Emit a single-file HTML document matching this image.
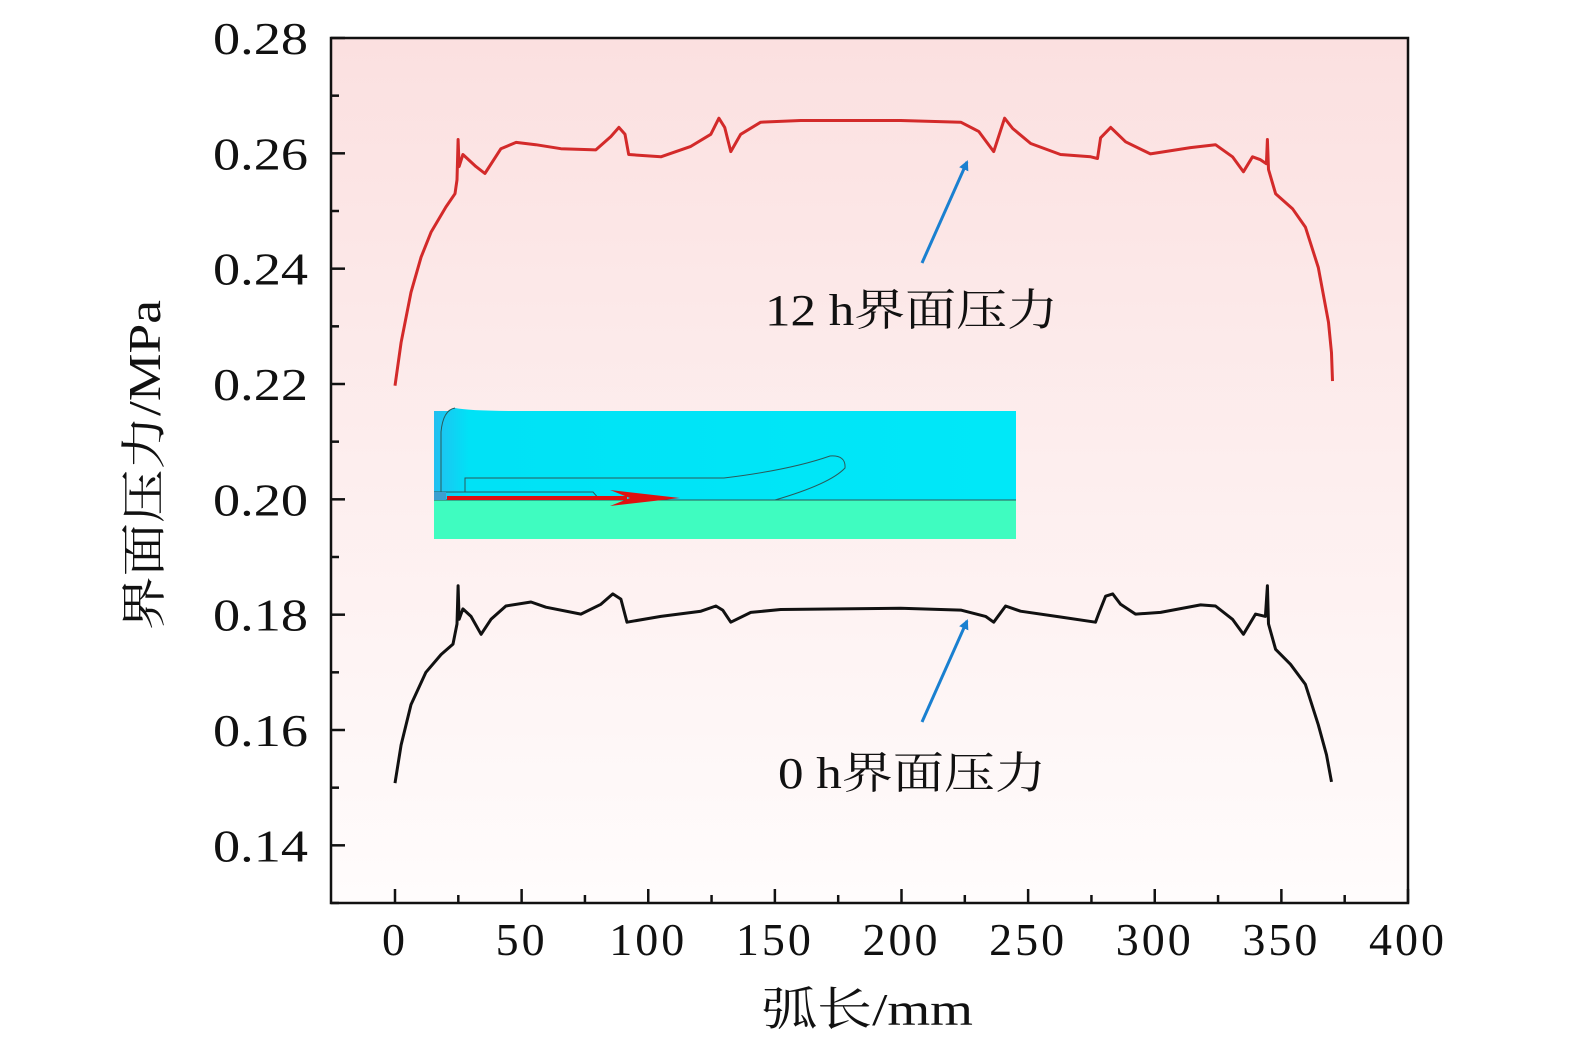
<!DOCTYPE html>
<html><head><meta charset="utf-8"><style>
html,body{margin:0;padding:0;background:#fff;}
svg{display:block;}
</style></head><body>
<svg id="chart" width="1575" height="1053" viewBox="0 0 1575 1053" xmlns="http://www.w3.org/2000/svg">
<defs>
<linearGradient id="bg" x1="0" y1="0" x2="0" y2="1">
<stop offset="0" stop-color="#fbe0e0"/><stop offset="1" stop-color="#fffcfc"/>
</linearGradient>
<linearGradient id="top" x1="0" y1="0" x2="1" y2="0">
<stop offset="0" stop-color="#22bff0"/><stop offset="0.06" stop-color="#00e2f6"/><stop offset="1" stop-color="#00e8f8"/>
</linearGradient>
<marker id="ah" markerWidth="10" markerHeight="10" refX="8" refY="5" orient="auto" markerUnits="userSpaceOnUse"><path d="M0,0 L10,5 L0,10 Z" fill="#1a80d0"/></marker>
</defs>
<rect x="331" y="38" width="1077" height="865" fill="url(#bg)"/>
<g id="inset">
<rect x="434" y="411" width="582" height="89" fill="url(#top)"/>
<path d="M434,500 L434,480 Q436,412 455,408 Q470,411 520,411 L1016,411 L1016,500 Z" fill="url(#top)"/>
<rect x="434" y="500" width="582" height="39" fill="#3ffcc0"/>
<line x1="434" y1="500" x2="1016" y2="500" stroke="#2a5a5a" stroke-width="1"/>
<path d="M441,492 L441,432 Q443,410 455,408" fill="none" stroke="#2a5a5a" stroke-width="1"/>
<path d="M465,492 L465,478 L724,478 Q790,470 830,456 Q846,455 845,468 Q830,484 775,500" fill="none" stroke="#2a5a5a" stroke-width="1"/>
<path d="M434,492 L593,492 L600,500" fill="none" stroke="#2a5a5a" stroke-width="1"/>
<rect x="434" y="492" width="12" height="8" fill="#3aa0d0"/>
<rect x="447" y="496" width="180" height="4" fill="#e01010"/>
<path d="M610,490 L680,498 L610,506 L630,498 Z" fill="#e01010"/>
</g>
<g id="axes"></g>
<g id="series"></g>
<line x1="922" y1="263" x2="967" y2="162" stroke="#1a80d0" stroke-width="3" marker-end="url(#ah)"/>
<line x1="922" y1="722" x2="967" y2="621" stroke="#1a80d0" stroke-width="3" marker-end="url(#ah)"/>
<text x="765" y="325" font-family="Liberation Serif, Noto Serif CJK SC, serif" font-size="44" fill="#111" textLength="293" lengthAdjust="spacingAndGlyphs">12 h界面压力</text>
<text x="778" y="788" font-family="Liberation Serif, Noto Serif CJK SC, serif" font-size="44" fill="#111" textLength="268" lengthAdjust="spacingAndGlyphs">0 h界面压力</text>
<text x="762" y="1025" font-family="Liberation Serif, Noto Serif CJK SC, serif" font-size="46" fill="#111" textLength="211" lengthAdjust="spacingAndGlyphs">弧长/mm</text>
<text transform="translate(160,630) rotate(-90)" font-family="Liberation Serif, Noto Serif CJK SC, serif" font-size="46" fill="#111" textLength="330" lengthAdjust="spacingAndGlyphs">界面压力/MPa</text>
</svg>
<script>
const xTicks=[0,50,100,150,200,250,300,350,400];
const yTicks=[0.14,0.16,0.18,0.20,0.22,0.24,0.26,0.28];
const redX=[0,2.4,6.3,10.3,14.2,20.1,23.7,24.5,24.9,25.3,26.8,32.0,35.5,41.8,47.8,55.6,65.5,79.3,85.2,88.4,90.8,92.3,105.0,116.8,124.7,127.9,130.2,132.6,136.5,144.4,160.2,199.7,223.4,230.5,236.4,240.7,243.9,251.0,262.8,274.7,277.4,278.6,282.6,288.5,298.3,314.1,324.0,330.7,335.0,338.6,341.7,344.1,344.5,344.9,347.7,354.4,359.5,364.6,368.6,369.8,370.2];
const redY=[0.2197,0.2272,0.2359,0.2420,0.2463,0.2507,0.2530,0.2554,0.2624,0.2577,0.2598,0.2577,0.2565,0.2608,0.2619,0.2615,0.2608,0.2606,0.2629,0.2645,0.2633,0.2598,0.2594,0.2612,0.2633,0.2661,0.2645,0.2603,0.2633,0.2654,0.2657,0.2657,0.2654,0.2638,0.2603,0.2661,0.2643,0.2617,0.2598,0.2594,0.2591,0.2627,0.2645,0.2620,0.2599,0.2610,0.2615,0.2594,0.2568,0.2594,0.2589,0.2582,0.2624,0.2572,0.2530,0.2504,0.2472,0.2402,0.2307,0.2254,0.2205];
const blackX=[0,2.4,6.3,12.2,18.2,22.9,24.5,24.9,25.3,26.8,30.0,34.0,37.9,43.8,53.7,59.6,73.4,81.3,86.0,89.2,91.6,105.0,120.8,126.7,129.4,132.6,140.5,152.3,199.7,223.4,233.2,236.4,241.1,247.0,262.8,276.6,277.8,280.6,283.4,286.5,292.4,302.3,318.1,324.0,330.7,335.0,339.8,343.7,344.5,344.9,347.7,353.6,359.5,364.6,367.8,369.8];
const blackY=[0.1508,0.1574,0.1644,0.1700,0.1731,0.1749,0.1784,0.1850,0.1792,0.1810,0.1797,0.1766,0.1792,0.1815,0.1822,0.1813,0.1801,0.1818,0.1836,0.1827,0.1787,0.1797,0.1806,0.1815,0.1808,0.1787,0.1804,0.1809,0.1811,0.1808,0.1797,0.1787,0.1815,0.1806,0.1796,0.1787,0.1801,0.1832,0.1836,0.1818,0.1801,0.1804,0.1817,0.1815,0.1792,0.1766,0.1801,0.1797,0.1850,0.1784,0.1740,0.1714,0.1679,0.1609,0.1557,0.1510];
const NS='http://www.w3.org/2000/svg';
const X0=395,XS=(1408-395)/400,YT=38,YB=903,YMIN=0.13,YMAX=0.28;
function sx(v){return X0+v*XS;}
function sy(v){return YB-(v-YMIN)/(YMAX-YMIN)*(YB-YT);}
const axes=document.getElementById('axes');
function mk(tag,attrs,parent){const e=document.createElementNS(NS,tag);for(const k in attrs)e.setAttribute(k,attrs[k]);parent.appendChild(e);return e;}
const frame=mk('rect',{x:331,y:38,width:1077,height:865,fill:'none',stroke:'#111','stroke-width':2.5},axes);


xTicks.forEach((t,i)=>{
  const x=sx(t);
  const tk=mk('line',{x1:x,y1:YB,x2:x,y2:YB-14,stroke:'#111','stroke-width':2.5},axes);
  
  
  if(i<xTicks.length-1){const m=sx(t+25);const mt=mk('line',{x1:m,y1:YB,x2:m,y2:YB-8,stroke:'#111','stroke-width':2.5},axes);
  
  }
  const lb=mk('text',{x:x,y:955,'text-anchor':'middle','font-family':'Liberation Serif, serif','font-size':46,'letter-spacing':3,fill:'#111'},axes);
  lb.textContent=String(t);
  
  
});
yTicks.forEach((t,i)=>{
  const y=sy(t);
  const tk=mk('line',{x1:331,y1:y,x2:345,y2:y,stroke:'#111','stroke-width':2.5},axes);
  
  
  const m=sy(t-0.01);const mt=mk('line',{x1:331,y1:m,x2:339,y2:m,stroke:'#111','stroke-width':2.5},axes);
  
  
  const lb=mk('text',{x:213,y:y+16,'font-family':'Liberation Serif, serif','font-size':46,fill:'#111',textLength:95,lengthAdjust:'spacingAndGlyphs'},axes);
  lb.textContent=t.toFixed(2);
  
  
});
const series=document.getElementById('series');
function line(xs,ys,color,name){
  const d=xs.map((v,i)=>(i?'L':'M')+sx(v).toFixed(1)+','+sy(ys[i]).toFixed(1)).join(' ');
  const p=mk('path',{d:d,fill:'none',stroke:color,'stroke-width':3,'stroke-linejoin':'round'},series);
  
  
}
line(redX,redY,'#d32a2a','series-12h');
line(blackX,blackY,'#111','series-0h');
</script>
</body></html>
